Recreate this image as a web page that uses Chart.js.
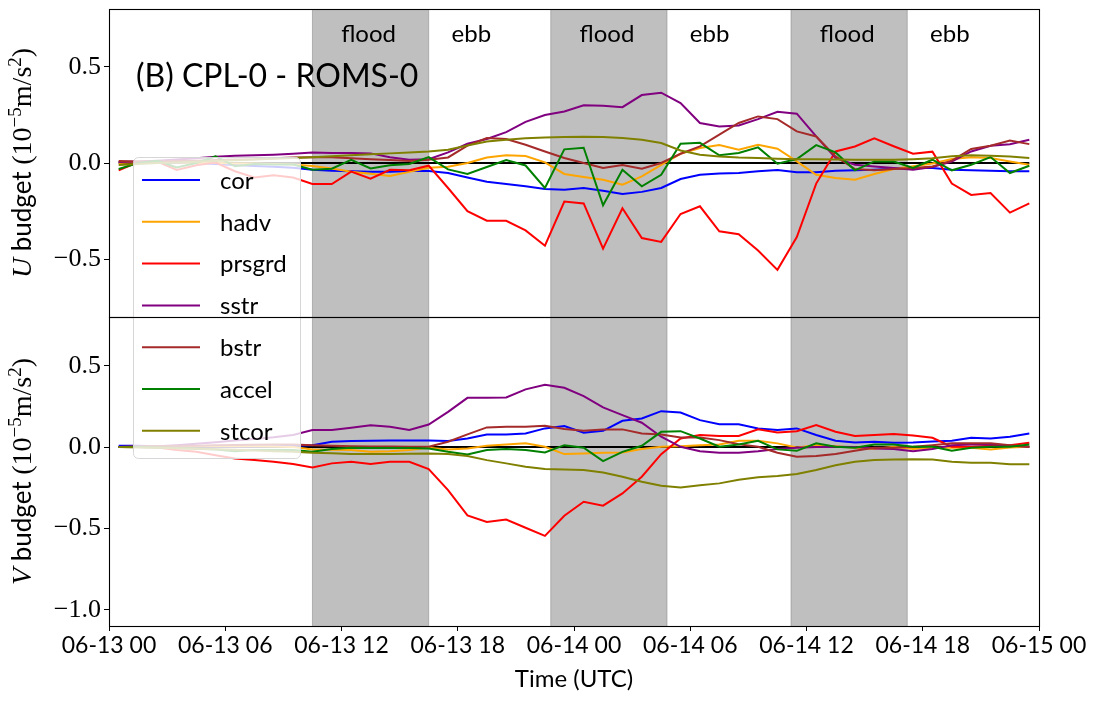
<!DOCTYPE html>
<html lang="en">
<head>
  <meta charset="UTF-8">
  <title>CPL-0 - ROMS-0 momentum budget</title>
  <script src="https://cdn.jsdelivr.net/npm/chart.js"></script>
  <style>
    body { margin: 0; background: #fff; }
    #wrap { position: relative; width: 1096px; height: 703px; }
    #wrap canvas { position: absolute; left: 0; top: 0; }
  </style>
</head>
<body>
  <div id="wrap">
    <canvas id="uChart" width="1096" height="703"></canvas>
    <canvas id="vChart" width="1096" height="703"></canvas>
  </div>

  <script>
    // hours since 06-13 00 UTC (hourly means, centred on the half hour)
    const hours = [0.5, 1.5, 2.5, 3.5, 4.5, 5.5, 6.5, 7.5, 8.5, 9.5, 10.5, 11.5,
      12.5, 13.5, 14.5, 15.5, 16.5, 17.5, 18.5, 19.5, 20.5, 21.5, 22.5, 23.5,
      24.5, 25.5, 26.5, 27.5, 28.5, 29.5, 30.5, 31.5, 32.5, 33.5, 34.5, 35.5,
      36.5, 37.5, 38.5, 39.5, 40.5, 41.5, 42.5, 43.5, 44.5, 45.5, 46.5, 47.5];
    const zeroLine = [0, 0, 0, 0, 0, 0, 0, 0, 0, 0, 0, 0, 0, 0, 0, 0, 0, 0, 0, 0, 0, 0, 0, 0,
      0, 0, 0, 0, 0, 0, 0, 0, 0, 0, 0, 0, 0, 0, 0, 0, 0, 0, 0, 0, 0, 0, 0, 0];

    const xTickLabels = ['06-13 00', '06-13 06', '06-13 12', '06-13 18', '06-14 00',
      '06-14 06', '06-14 12', '06-14 18', '06-15 00'];
    const uTicks = [-0.5, 0.0, 0.5];
    const vTicks = [-1.0, -0.5, 0.0, 0.5];

    // flood periods (hours); ebb follows each one
    const floodPeriods = [[10.5, 16.5], [22.8, 28.8], [35.2, 41.2]];

    const seriesNames = ['cor', 'hadv', 'prsgrd', 'sstr', 'bstr', 'accel', 'stcor'];
    const seriesColors = ['#0000ff', '#ffa500', '#ff0000', '#800080', '#a52a2a', '#008000', '#808000'];

    // U budget (1e-5 m/s2)
    const uCor = [0.005, 0.005, 0.003, 0.0, 0.0, -0.005, -0.01, -0.015, -0.02, -0.025, -0.035, -0.04,
      -0.043, -0.045, -0.045, -0.042, -0.042, -0.052, -0.075, -0.097, -0.109, -0.121, -0.135, -0.139,
      -0.13, -0.144, -0.161, -0.15, -0.13, -0.083, -0.061, -0.054, -0.052, -0.043, -0.037, -0.048,
      -0.048, -0.04, -0.038, -0.035, -0.03, -0.026, -0.026, -0.035, -0.038, -0.04, -0.043, -0.043];
    const uHadv = [0.0, 0.005, 0.005, 0.003, 0.0, 0.0, -0.002, -0.003, -0.005, -0.008, -0.015, -0.028,
      -0.045, -0.056, -0.068, -0.046, -0.025, -0.02, 0.0, 0.029, 0.04, 0.036, 0.003, -0.057,
      -0.073, -0.087, -0.113, -0.07, -0.01, 0.048, 0.078, 0.093, 0.069, 0.095, 0.074, 0.008,
      -0.061, -0.078, -0.087, -0.057, -0.031, -0.017, -0.003, 0.021, 0.03, 0.026, 0.008, -0.009];
    const uPrsgrd = [-0.038, 0.005, 0.008, -0.036, -0.012, 0.002, -0.043, -0.075, -0.064, -0.075, -0.109, -0.109,
      -0.045, -0.081, -0.035, -0.038, -0.014, -0.13, -0.25, -0.30, -0.30, -0.35, -0.43, -0.20,
      -0.21, -0.445, -0.235, -0.39, -0.41, -0.265, -0.225, -0.355, -0.37, -0.455, -0.555, -0.385,
      -0.107, 0.06, 0.086, 0.128, 0.087, 0.048, 0.059, -0.107, -0.166, -0.156, -0.258, -0.21];
    const uSstr = [0.005, 0.008, 0.012, 0.018, 0.025, 0.032, 0.038, 0.04, 0.043, 0.048, 0.055, 0.052,
      0.052, 0.05, 0.03, 0.017, 0.02, 0.055, 0.10, 0.125, 0.16, 0.214, 0.249, 0.268,
      0.30, 0.297, 0.29, 0.353, 0.365, 0.311, 0.208, 0.19, 0.195, 0.228, 0.266, 0.256,
      0.138, 0.026, -0.009, -0.018, -0.026, -0.035, -0.021, 0.008, 0.06, 0.09, 0.098, 0.121];
    const uBstr = [0.01, 0.008, 0.008, 0.01, 0.012, 0.015, 0.018, 0.02, 0.025, 0.028, 0.03, 0.03,
      0.025, 0.02, 0.015, 0.01, 0.017, 0.029, 0.09, 0.13, 0.125, 0.095, 0.06, 0.026,
      0.0, -0.026, -0.01, -0.03, 0.0, 0.048, 0.086, 0.147, 0.208, 0.242, 0.228, 0.164,
      0.138, 0.034, -0.031, -0.038, -0.031, -0.026, -0.018, 0.012, 0.073, 0.09, 0.117, 0.098];
    const uAccel = [-0.031, 0.0, 0.012, -0.023, 0.0, 0.034, -0.017, -0.005, -0.008, -0.008, -0.035, -0.03,
      0.017, -0.028, -0.012, -0.005, 0.031, -0.033, -0.057, -0.021, 0.015, -0.013, -0.13, 0.071,
      0.079, -0.22, -0.035, -0.121, -0.061, 0.10, 0.105, 0.04, 0.052, 0.081, -0.004, 0.021,
      0.093, 0.055, -0.038, 0.008, 0.008, -0.026, 0.017, -0.038, -0.009, 0.031, -0.052, -0.014];
    const uStcor = [-0.01, -0.005, 0.0, 0.003, 0.006, 0.01, 0.014, 0.018, 0.022, 0.026, 0.03, 0.035,
      0.04, 0.045, 0.05, 0.054, 0.06, 0.069, 0.091, 0.112, 0.121, 0.128, 0.133, 0.135,
      0.137, 0.135, 0.13, 0.121, 0.104, 0.065, 0.043, 0.034, 0.028, 0.026, 0.022, 0.02,
      0.019, 0.018, 0.017, 0.017, 0.017, 0.02, 0.025, 0.035, 0.04, 0.038, 0.034, 0.026];

    // V budget (1e-5 m/s2)
    const vCor = [0.008, 0.008, 0.006, 0.005, 0.005, 0.004, 0.004, 0.004, 0.005, 0.008, 0.012, 0.033,
      0.037, 0.039, 0.041, 0.041, 0.041, 0.037, 0.053, 0.078, 0.078, 0.084, 0.115, 0.129,
      0.088, 0.1, 0.162, 0.176, 0.221, 0.213, 0.166, 0.141, 0.141, 0.115, 0.105, 0.115,
      0.074, 0.039, 0.029, 0.033, 0.027, 0.029, 0.035, 0.039, 0.057, 0.053, 0.064, 0.084];
    const vHadv = [0.0, 0.002, 0.003, 0.004, 0.005, 0.006, 0.006, 0.005, 0.004, 0.0, -0.014, -0.016,
      -0.018, -0.029, -0.025, -0.018, -0.004, -0.014, -0.008, 0.008, 0.016, 0.023, 0.002, -0.043,
      -0.039, -0.035, -0.033, -0.012, 0.002, 0.006, 0.012, 0.016, 0.039, 0.039, 0.023, -0.002,
      0.012, 0.006, -0.004, -0.012, 0.002, -0.012, -0.004, -0.004, -0.004, -0.014, -0.002, 0.002];
    const vPrsgrd = [0.0, 0.0, -0.002, -0.018, -0.029, -0.05, -0.07, -0.08, -0.09, -0.104, -0.125, -0.1,
      -0.09, -0.104, -0.09, -0.09, -0.135, -0.264, -0.42, -0.46, -0.445, -0.496, -0.546, -0.422,
      -0.336, -0.36, -0.285, -0.182, -0.043, 0.053, 0.074, 0.068, 0.068, 0.11, 0.09, 0.098,
      0.135, 0.094, 0.068, 0.074, 0.08, 0.072, 0.057, 0.002, 0.002, 0.008, 0.012, 0.027];
    const vSstr = [0.0, 0.002, 0.005, 0.012, 0.02, 0.03, 0.04, 0.05, 0.06, 0.075, 0.105, 0.105,
      0.119, 0.135, 0.125, 0.105, 0.139, 0.217, 0.303, 0.303, 0.305, 0.355, 0.383, 0.365,
      0.314, 0.244, 0.197, 0.15, 0.064, 0.002, -0.025, -0.035, -0.034, -0.025, -0.012, -0.004,
      0.0, 0.002, 0.0, -0.008, -0.012, -0.025, -0.012, 0.012, 0.016, 0.018, 0.008, 0.002];
    const vBstr = [0.0, 0.003, 0.005, 0.007, 0.009, 0.011, 0.013, 0.015, 0.016, 0.016, 0.012, 0.008,
      0.006, 0.004, 0.003, 0.002, 0.002, 0.033, 0.078, 0.121, 0.125, 0.125, 0.131, 0.111,
      0.1, 0.109, 0.109, 0.084, 0.078, 0.059, 0.059, 0.043, 0.018, 0.002, -0.035, -0.059,
      -0.055, -0.043, -0.023, -0.004, -0.004, 0.002, 0.012, 0.023, 0.023, 0.023, 0.012, 0.002];
    const vAccel = [0.0, 0.0, -0.003, -0.006, -0.01, -0.015, -0.025, -0.018, -0.018, -0.018, -0.029, -0.012,
      -0.004, -0.006, -0.006, -0.006, -0.008, -0.029, -0.045, -0.018, -0.012, -0.018, -0.033, 0.012,
      -0.004, -0.086, -0.029, 0.008, 0.094, 0.098, 0.053, 0.002, 0.016, 0.039, -0.014, -0.023,
      0.023, 0.002, -0.004, 0.016, 0.016, 0.002, 0.002, -0.023, -0.004, 0.002, 0.002, 0.016];
    const vStcor = [0.0, -0.002, -0.004, -0.007, -0.01, -0.013, -0.017, -0.021, -0.025, -0.029, -0.035, -0.038,
      -0.042, -0.043, -0.043, -0.041, -0.039, -0.043, -0.055, -0.08, -0.1, -0.121, -0.135, -0.137,
      -0.141, -0.156, -0.182, -0.213, -0.238, -0.248, -0.234, -0.223, -0.201, -0.186, -0.178, -0.166,
      -0.141, -0.111, -0.09, -0.08, -0.076, -0.074, -0.076, -0.09, -0.096, -0.096, -0.105, -0.105];

    const uSeries = [uCor, uHadv, uPrsgrd, uSstr, uBstr, uAccel, uStcor];
    const vSeries = [vCor, vHadv, vPrsgrd, vSstr, vBstr, vAccel, vStcor];

    const SANS = 'Lato, "Open Sans", sans-serif';
    const SERIF = '"Liberation Serif", "DejaVu Serif", serif';

    function pts(ys) {
      return hours.map((h, i) => ({ x: h, y: ys[i] }));
    }

    function makeDatasets(series) {
      const sets = series.map((ys, i) => ({
        label: seriesNames[i],
        data: pts(ys),
        borderColor: seriesColors[i],
        borderWidth: 2,
        order: 10 - i
      }));
      sets.push({ label: 'zero', data: pts(zeroLine), borderColor: '#000', borderWidth: 2, order: 100 });
      return sets;
    }

    function fmtTick(v) {
      return (v < 0 ? '\u2212' : '') + Math.abs(v).toFixed(1);
    }

    // grey flood bands under the lines
    const floodBands = {
      id: 'floodBands',
      beforeDatasetsDraw(chart) {
        const { ctx, chartArea: a, scales: { x } } = chart;
        ctx.save();
        floodPeriods.forEach(([s, e]) => {
          const x1 = x.getPixelForValue(s), x2 = x.getPixelForValue(e);
          ctx.fillStyle = 'rgba(128,128,128,0.5)';
          ctx.fillRect(x1, a.top, x2 - x1, a.bottom - a.top);
          ctx.strokeStyle = 'rgba(128,128,128,0.5)';
          ctx.lineWidth = 1;
          ctx.beginPath();
          ctx.moveTo(x1, a.top); ctx.lineTo(x1, a.bottom);
          ctx.moveTo(x2, a.top); ctx.lineTo(x2, a.bottom);
          ctx.stroke();
        });
        ctx.restore();
      }
    };

    function drawFrame(chart) {
      const { ctx, chartArea: a } = chart;
      ctx.save();
      ctx.strokeStyle = '#000';
      ctx.lineWidth = 1.1;
      ctx.strokeRect(Math.round(a.left) + 0.5, Math.round(a.top) + 0.5,
        Math.round(a.right - a.left), Math.round(a.bottom - a.top));
      ctx.restore();
    }

    // rotated y title: "<comp> budget (10^-5 m/s^2)"
    function drawYTitle(chart, comp) {
      const { ctx, chartArea: a } = chart;
      const parts = [
        { t: comp, f: 'italic 28px ' + SERIF, dy: 0 },
        { t: ' budget ', f: '26px ' + SANS, dy: 0 },
        { t: '(10', f: '28px ' + SERIF, dy: 0 },
        { t: '\u22125', f: '19px ' + SERIF, dy: -10 },
        { t: 'm/s', f: '28px ' + SERIF, dy: 0 },
        { t: '2', f: '19px ' + SERIF, dy: -10 },
        { t: ')', f: '28px ' + SERIF, dy: 0 }
      ];
      ctx.save();
      let total = 0;
      parts.forEach(p => { ctx.font = p.f; p.w = ctx.measureText(p.t).width; total += p.w; });
      ctx.translate(31, (a.top + a.bottom) / 2);
      ctx.rotate(-Math.PI / 2);
      ctx.fillStyle = '#000';
      ctx.textBaseline = 'alphabetic';
      let x = -total / 2;
      parts.forEach(p => {
        ctx.font = p.f;
        ctx.fillText(p.t, x, p.dy);
        x += p.w;
      });
      ctx.restore();
    }

    const uDecor = {
      id: 'uDecor',
      afterDatasetsDraw(chart) {
        const { ctx, chartArea: a, scales: { x } } = chart;
        ctx.save();
        ctx.fillStyle = '#000';
        ctx.font = '24px ' + SANS;
        ctx.textAlign = 'center';
        ctx.textBaseline = 'alphabetic';
        floodPeriods.forEach(([s, e]) => {
          ctx.fillText('flood', x.getPixelForValue((s + e) / 2 - 0.1), a.top + 33);
          ctx.fillText('ebb', x.getPixelForValue(e + 2.2), a.top + 33);
        });
        ctx.textAlign = 'left';
        ctx.font = '32px ' + SANS;
        ctx.fillText('(B) CPL-0 - ROMS-0', a.left + 27, a.top + 78);
        ctx.restore();
        drawFrame(chart);
        drawYTitle(chart, 'U');
      }
    };

    const vDecor = {
      id: 'vDecor',
      afterDraw(chart) {
        const { ctx } = chart;
        drawYTitle(chart, 'V');
        // figure legend spanning both panels
        ctx.save();
        const bx = 133, by = 157, bw = 167, bh = 301, r = 5;
        ctx.beginPath();
        ctx.roundRect(bx + 0.5, by + 0.5, bw, bh, r);
        ctx.fillStyle = 'rgba(255,255,255,0.8)';
        ctx.fill();
        ctx.strokeStyle = '#d6d6d6';
        ctx.lineWidth = 1;
        ctx.stroke();
        ctx.font = '24px ' + SANS;
        ctx.textBaseline = 'middle';
        seriesNames.forEach((name, i) => {
          const y = 180 + i * 41.8;
          ctx.strokeStyle = seriesColors[i];
          ctx.lineWidth = 2;
          ctx.beginPath();
          ctx.moveTo(142, y); ctx.lineTo(200, y);
          ctx.stroke();
          ctx.fillStyle = '#000';
          ctx.fillText(name, 220, y + 1);
        });
        ctx.restore();
        drawFrame(chart);
      }
    };

    function yScale(min, max, ticks) {
      return {
        min, max,
        afterFit(s) { s.width = 109; s.paddingTop = 0; s.paddingBottom = 0; },
        afterBuildTicks(s) { s.ticks = ticks.map(v => ({ value: v })); },
        ticks: { color: '#000', padding: 3, font: { family: SERIF, size: 26 }, callback: fmtTick },
        grid: { drawOnChartArea: false, color: '#000', tickLength: 5, tickWidth: 1 },
        border: { display: false }
      };
    }

    const common = {
      responsive: false,
      animation: false,
      events: [],
      elements: { point: { radius: 0 }, line: { tension: 0 } },
      plugins: { legend: { display: false }, tooltip: { enabled: false } }
    };

    new Chart(document.getElementById('uChart'), {
      type: 'line',
      data: { datasets: makeDatasets(uSeries) },
      options: {
        ...common,
        layout: { padding: { top: 9, right: 57, bottom: 386, left: 0 } },
        scales: {
          x: { type: 'linear', min: 0, max: 48, display: false },
          y: yScale(-0.8, 0.8, uTicks)
        }
      },
      plugins: [floodBands, uDecor]
    });

    new Chart(document.getElementById('vChart'), {
      type: 'line',
      data: { datasets: makeDatasets(vSeries) },
      options: {
        ...common,
        layout: { padding: { top: 317, right: 57, bottom: 0, left: 0 } },
        scales: {
          x: {
            type: 'linear', min: 0, max: 48,
            afterFit(s) { s.height = 77; s.paddingLeft = 0; s.paddingRight = 0; },
            ticks: {
              stepSize: 6, color: '#000', padding: 1, maxRotation: 0, autoSkip: false,
              font: { family: SANS, size: 23 },
              callback: v => xTickLabels[v / 6]
            },
            grid: { drawOnChartArea: false, color: '#000', tickLength: 5, tickWidth: 1 },
            border: { display: false },
            title: { display: true, text: 'Time (UTC)', color: '#000', font: { family: SANS, size: 24 },
              padding: { top: 0, bottom: 9 } }
          },
          y: yScale(-1.1, 0.8, vTicks)
        }
      },
      plugins: [floodBands, vDecor]
    });
  </script>
</body>
</html>
